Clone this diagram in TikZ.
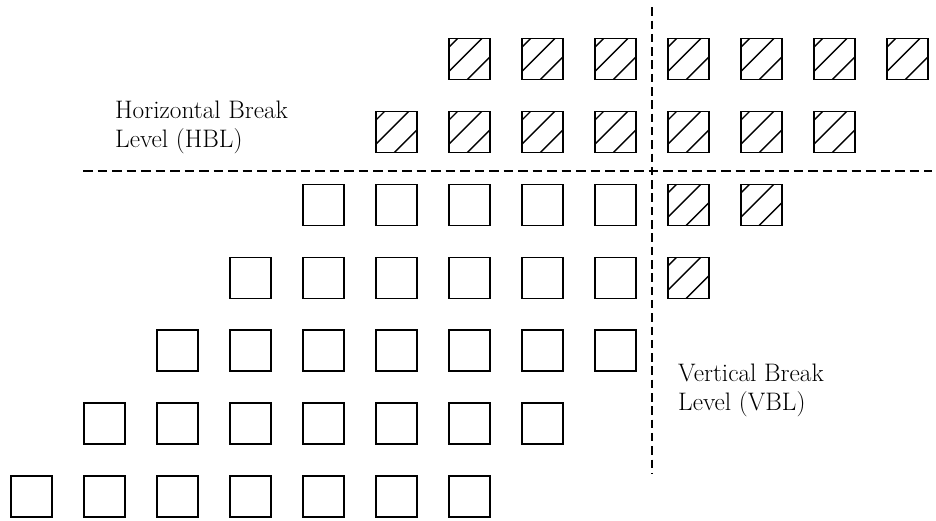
\documentclass[tikz,border=0pt]{standalone}
\tikzset{
  plainbox/.style={draw=black, line width=1.4pt, minimum size=41pt, inner sep=0pt, outer sep=0pt},
  hatchbox/.style={plainbox, path picture={
      \draw[line width=1.4pt]
        ([shift={(-41pt,-8.6pt)}]path picture bounding box.center) --
        ([shift={(41pt,73.4pt)}]path picture bounding box.center);
      \draw[line width=1.4pt]
        ([shift={(-41pt,-32.8pt)}]path picture bounding box.center) --
        ([shift={(41pt,49.2pt)}]path picture bounding box.center);
      \draw[line width=1.4pt]
        ([shift={(-41pt,-59.4pt)}]path picture bounding box.center) --
        ([shift={(41pt,22.6pt)}]path picture bounding box.center);
      }},
  breakline/.style={line width=2.3pt, dash pattern=on 9.5pt off 5pt},
  lbl/.style={anchor=base west, align=left, inner sep=0pt, font=\fontsize{25.3}{29}\selectfont}
}
\begin{document}
\begin{tikzpicture}[x=1pt,y=1pt]
\useasboundingbox (0,0) rectangle (936,520);
\foreach \r in {0,...,6}{
  \foreach \k in {0,...,6}{
    \pgfmathtruncatemacro\i{6-\r+\k}
    \pgfmathsetmacro\xx{31.5+73*\i}
    \pgfmathsetmacro\yy{461-72.9*\r}
    \pgfmathtruncatemacro\h{or(\i>=9,\r<=1)}
    \ifnum\h=1
      \node[hatchbox] (b-\r-\i) at (\xx,\yy) {};
    \else
      \node[plainbox] (b-\r-\i) at (\xx,\yy) {};
    \fi
  }
}
\coordinate (hL) at (83,349.3);
\coordinate (hR) at (932,349.3);
\coordinate (vT) at (652.3,512.7);
\coordinate (vB) at (652.3,46);
\draw[breakline] (hL) -- (hR);
\draw[breakline, dash pattern=on 8.5pt off 4.8pt] (vT) -- (vB);
\node[lbl] (hbl) at (115,372) {Horizontal Break\\Level (HBL)};
\node[lbl] (vbl) at (678,110) {Vertical Break\\Level (VBL)};
\end{tikzpicture}
\end{document}
